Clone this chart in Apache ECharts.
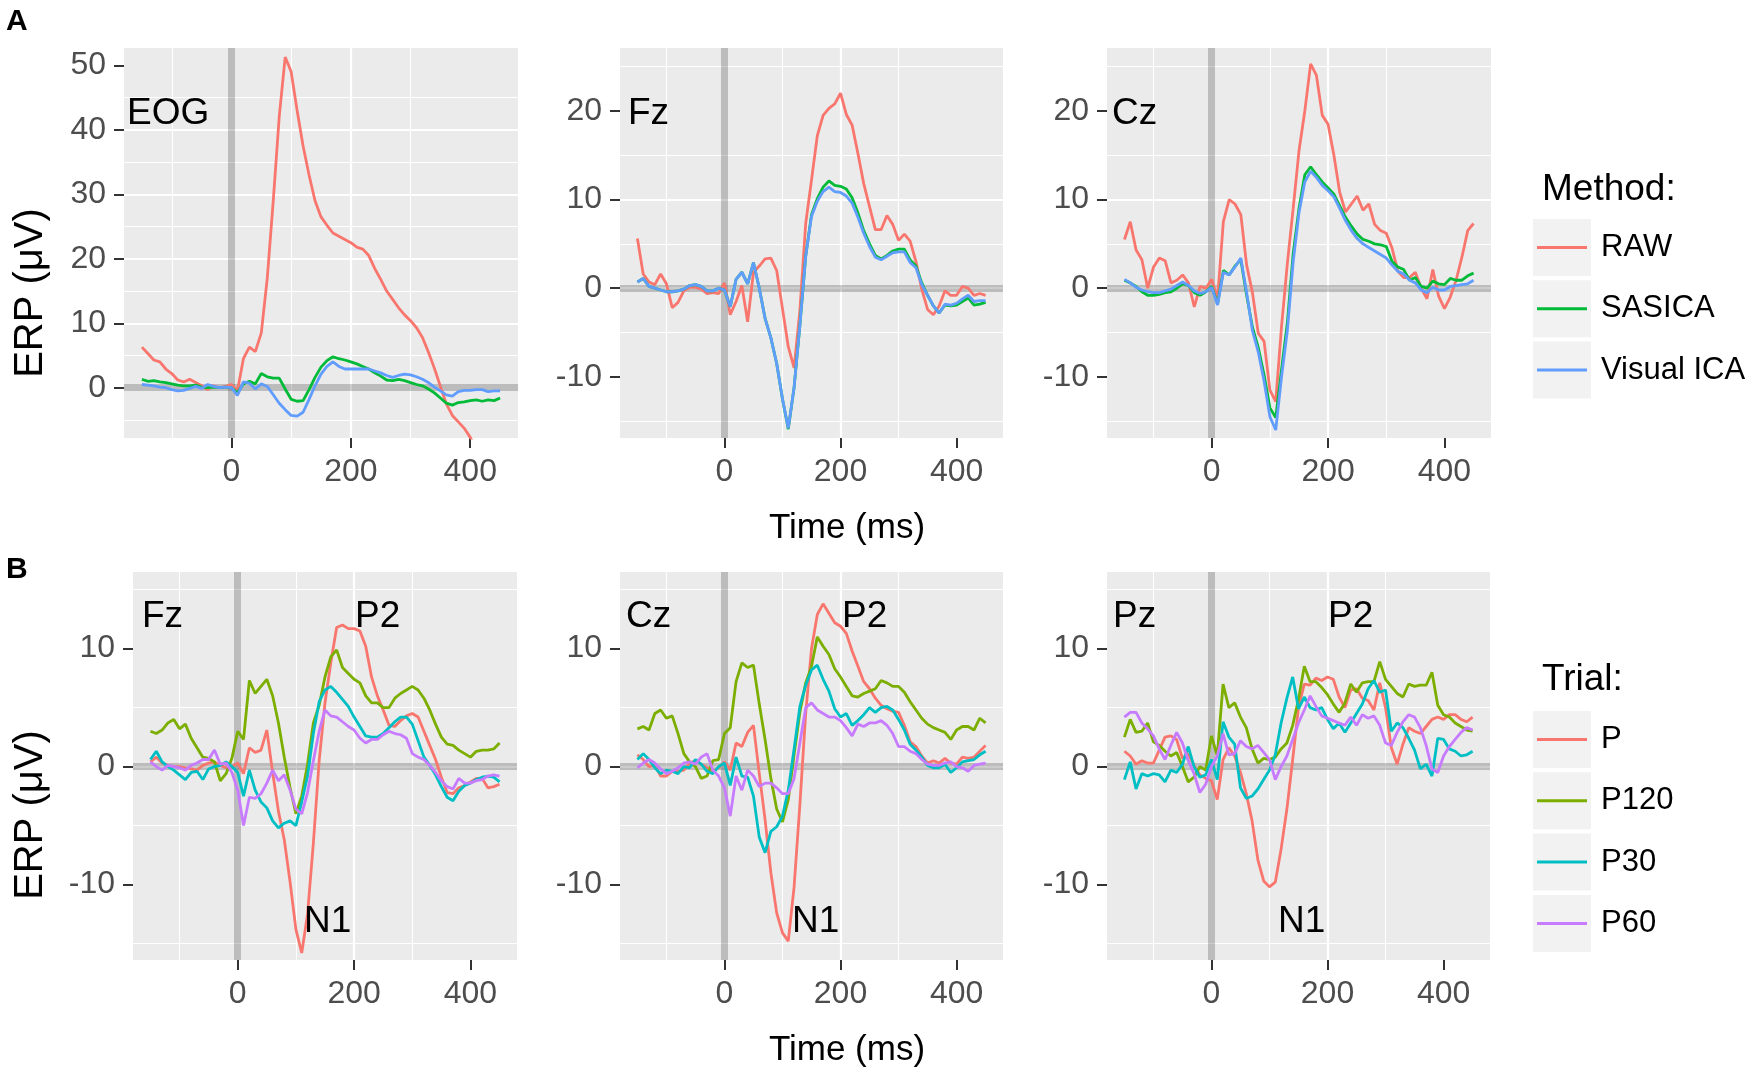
<!DOCTYPE html>
<html>
<head>
<meta charset="utf-8">
<title>ERP by method and trial</title>
<script src="https://cdn.jsdelivr.net/npm/echarts@6.0.0/dist/echarts.min.js"></script>
<style>
html, body { margin: 0; padding: 0; background: #fff; }
#chart { width: 1755px; height: 1079px; }
</style>
</head>
<body>
<div id="chart"></div>
<script>
// time points (ms), shared by every curve
var times = [-150, -140, -130, -120, -110, -100, -90, -80, -70, -60,
  -50, -40, -30, -20, -10, 0, 10, 20, 30, 40,
  50, 60, 70, 80, 90, 100, 110, 120, 130, 140,
  150, 160, 170, 180, 190, 200, 210, 220, 230, 240,
  250, 260, 270, 280, 290, 300, 310, 320, 330, 340,
  350, 360, 370, 380, 390, 400, 410, 420, 430, 440, 450];

var methodNames = ['RAW', 'SASICA', 'Visual ICA'];
var trialNames = ['P', 'P120', 'P30', 'P60'];

var xTicks = [0, 200, 400];
var eogTicks = [0, 10, 20, 30, 40, 50];
var topTicks = [-10, 0, 10, 20];
var bottomTicks = [-10, 0, 10];

// ---- A: EOG ----
var eogRaw = [6.3, 5.3, 4.3, 4.0, 2.9, 2.2, 1.2, 0.9, 1.3, 0.8,
  0.3, -0.3, 0.3, 0, 0.2, 0.5, -0.5, 4.5, 6.3, 5.6,
  8.5, 17, 29, 42, 51.3, 49, 43, 37.5, 33, 29,
  26.5, 25.2, 24, 23.5, 23, 22.5, 21.8, 21.5, 20.5, 18.5,
  16.8, 15, 13.7, 12.4, 11.3, 10.4, 9.3, 7.8, 5.5, 3.0,
  0.2, -2.5, -4.3, -5.3, -6.3, -7.7, -9.5, -11, -12.5, -14, -15.5];
var eogSasica = [1.3, 1.0, 1.1, 0.9, 0.8, 0.6, 0.4, 0.3, 0.3, 0.4,
  0.1, 0, 0.1, 0, 0.1, 0, -0.8, 0.6, 1.0, 0.6,
  2.2, 1.7, 1.5, 1.5, -0.2, -1.8, -2.1, -2.0, -0.3, 1.6,
  3.2, 4.2, 4.8, 4.5, 4.3, 4.0, 3.7, 3.3, 2.9, 2.3,
  1.8, 1.2, 1.1, 1.3, 1.1, 0.8, 0.5, 0.3, -0.2, -0.8,
  -1.6, -2.4, -2.7, -2.3, -2.2, -2.0, -1.9, -2.1, -1.9, -2.0, -1.6];
var eogVisual = [0.5, 0.4, 0.3, 0.1, 0, -0.3, -0.5, -0.4, -0.1, 0.2,
  -0.1, 0.5, 0.2, 0, 0.1, 0, -1.2, 0.9, 0.7, -0.2,
  0.6, 0.2, -1.1, -2.4, -3.4, -4.3, -4.4, -3.8, -1.8, 0.3,
  2.1, 3.3, 4.0, 3.3, 2.9, 2.9, 2.9, 2.9, 2.9, 2.6,
  2.3, 1.9, 1.6, 1.9, 2.1, 2.0, 1.7, 1.3, 0.8, 0.1,
  -0.5, -1.1, -1.3, -0.6, -0.4, -0.4, -0.3, -0.3, -0.6, -0.5, -0.5];

// ---- A: Fz ----
var fzRaw = [5.6, 1.6, 0.7, 0.4, 1.6, 0.5, -2.2, -1.6, -0.3, 0.1,
  0.1, -0.1, -0.6, -0.5, -0.6, 0.6, -3.0, -1.5, 0.3, -3.8,
  1.8, 2.5, 3.3, 3.4, 2.0, -2.3, -6.6, -9.0, -2.5, 7.3,
  12.2, 17.2, 19.5, 20.3, 20.8, 22, 19.6, 18.4, 15.2, 11.8,
  9.2, 6.6, 6.6, 8.2, 7.2, 5.4, 6.1, 5.3, 3.0, -0.1,
  -2.4, -3.0, -2.0, -0.3, -0.8, -0.8, 0.2, 0.0, -0.8, -0.6, -0.8];
var fzSasica = [0.7, 1.1, 0.2, 0, -0.2, -0.4, -0.4, -0.3, -0.1, 0.3,
  0.4, 0.2, -0.3, -0.3, 0.0, -0.2, -2.1, 1.0, 1.8, 0.5,
  2.9, 0.0, -3.4, -5.6, -8.5, -12.5, -15.9, -11.2, -4.2, 3.6,
  8.3, 10.1, 11.4, 12.1, 11.6, 11.5, 11.2, 10.2, 8.5, 6.5,
  5.0, 3.7, 3.3, 3.7, 4.2, 4.4, 4.4, 3.2, 2.5, 0.6,
  -0.8, -2.0, -2.8, -1.9, -2.0, -1.9, -1.5, -1.1, -1.9, -1.8, -1.6];
var fzVisual = [0.7, 1.1, 0.2, 0, -0.2, -0.4, -0.4, -0.3, -0.1, 0.3,
  0.4, 0.2, -0.3, -0.3, 0.0, -0.2, -2.1, 1.0, 1.8, 0.5,
  2.9, 0.0, -3.4, -5.6, -8.5, -12.5, -15.8, -11.2, -4.2, 3.6,
  8.1, 9.8, 10.9, 11.4, 10.9, 10.8, 10.4, 9.6, 8.0, 6.2,
  4.7, 3.5, 3.2, 3.6, 4.0, 4.1, 4.1, 2.9, 2.3, 0.4,
  -0.8, -2.0, -2.8, -1.8, -1.9, -1.7, -1.2, -0.8, -1.5, -1.4, -1.4];

// ---- A: Cz ----
var czRaw = [5.5, 7.5, 4.3, 3.2, 0, 2.4, 3.4, 3.1, 0.6, 0.9,
  1.5, 0.6, -2.1, 0.2, 0.0, 1.0, -1.2, 7.5, 10.0, 9.5,
  8.3, 2.6, -0.5, -5.1, -6.0, -11.5, -12.8, -4.3, 2.8, 9.0,
  15.5, 20.0, 25.3, 24.0, 19.5, 18.5, 15.0, 10.8, 8.6, 9.5,
  10.4, 8.8, 9.5, 7.2, 6.5, 6.2, 4.5, 1.9, 1.2, 1.2,
  1.8, 0.0, -1.2, 2.1, -0.9, -2.3, -1.0, 0.9, 3.5, 6.5, 7.3];
var czSasica = [0.9, 0.6, 0.2, -0.4, -0.8, -0.8, -0.7, -0.5, -0.4, 0.0,
  0.5, 0.3, -0.5, -0.8, -0.4, 0.2, -1.8, 2.0, 1.5, 2.5,
  3.2, -0.8, -4.4, -6.7, -9.8, -13.5, -14.6, -9.2, -3.9, 3.9,
  9.0, 12.8, 13.7, 12.8, 12.0, 11.3, 10.6, 9.3, 8.0, 7.0,
  6.1, 5.5, 5.3, 5.0, 4.9, 4.7, 3.0, 2.4, 2.1, 0.9,
  1.2, 0.2, 0.0, 0.8, 0.5, 0.4, 1.1, 0.9, 0.9, 1.4, 1.7];
var czVisual = [1.0, 0.6, 0.1, -0.2, -0.4, -0.5, -0.5, -0.3, -0.1, 0.3,
  0.7, 0.3, -0.3, -0.6, -0.4, 0.1, -1.9, 1.8, 1.5, 2.4,
  3.4, -0.5, -4.8, -7.2, -10.5, -14.5, -16.0, -10.0, -4.8, 3.0,
  8.5, 12.0, 13.2, 12.5, 11.6, 11.0, 10.3, 9.0, 7.6, 6.5,
  5.6, 5.0, 4.6, 4.2, 3.8, 3.4, 2.6, 1.9, 1.6, 0.9,
  0.6, -0.2, -0.5, 0.1, -0.2, -0.2, 0.2, 0.3, 0.4, 0.5, 0.9];

// ---- B: Fz ----
var bFzP = [0.4, 0.8, 0.3, 0.1, 0, 0, -0.1, -0.2, -0.3, 0.1,
  0.3, 0.4, 0.1, -0.1, 0, 0.3, -0.6, 1.6, 1.2, 1.4,
  3.1, -0.5, -3.8, -6.2, -9.8, -13.8, -15.8, -12.5, -6.5, 0.5,
  5.4, 8.8, 11.8, 12.0, 11.7, 11.7, 11.5, 10.2, 7.6, 6.0,
  4.8, 3.5, 3.4, 3.9, 4.3, 4.5, 4.2, 3.0, 1.8, 0.6,
  -0.9, -2.2, -2.3, -1.8, -1.6, -1.3, -1.0, -1.0, -1.8, -1.7, -1.5];
var bFzP120 = [3.0, 2.8, 3.1, 3.7, 4.0, 3.2, 3.6, 2.4, 1.6, 0.8,
  0.7, 0.4, -1.2, -0.6, 0.7, 3.0, 2.3, 7.3, 6.2, 6.8,
  7.4, 6.0, 3.7, 0.8, -1.8, -4.0, -2.5, 0.2, 3.7, 5.2,
  7.6, 9.3, 9.9, 8.4, 7.9, 7.4, 7.1, 6.0, 5.4, 5.4,
  5.0, 5.0, 5.8, 6.2, 6.5, 6.8, 6.5, 5.8, 4.8, 3.6,
  2.5, 1.9, 1.8, 1.4, 1.1, 0.8, 1.3, 1.4, 1.4, 1.5, 2.0];
var bFzP30 = [0.6, 1.3, 0.4, 0, -0.3, -0.7, -1.1, -0.5, -0.4, -1.1,
  -0.2, 0, 0.1, 0.4, 0, -0.5, -2.5, -0.3, -2.0, -3.0,
  -3.5, -4.6, -5.2, -4.8, -4.6, -5.0, -3.0, -0.8, 2.8, 5.5,
  6.5, 6.8, 6.3, 5.7, 5.1, 4.2, 3.4, 2.6, 2.5, 2.5,
  2.8, 3.3, 3.8, 4.2, 4.2, 3.6, 2.2, 0.8, 0.1, -0.7,
  -1.7, -2.6, -2.9, -2.1, -1.6, -1.4, -1.1, -0.9, -0.8, -0.9, -1.3];
var bFzP60 = [0.4, 0, -0.3, 0.1, 0, -0.1, -0.3, 0.1, 0.3, 0.6,
  0.6, 1.4, 0.2, 0.3, -0.5, -2.0, -5.0, -2.6, -2.7, -2.3,
  -1.4, -0.3, -1.2, -0.7, -2.0, -3.6, -4.0, -2.2, 0.5, 3.0,
  4.8, 4.3, 4.2, 3.8, 3.4, 3.1, 2.4, 2.0, 2.3, 2.3,
  2.7, 3.0, 2.8, 2.7, 2.4, 1.1, 0.8, 0.6, 0.1, -0.5,
  -1.2, -1.7, -1.9, -1.0, -1.4, -1.4, -1.2, -1.1, -0.8, -0.7, -0.8];

// ---- B: Cz ----
var bCzP = [1.0, 0.6, 0, 0.1, -0.8, -0.8, -0.4, -0.4, -0.3, 0.3,
  0.5, 0.2, -0.1, -0.4, -0.1, 0.4, -0.3, 2.0, 1.7, 2.9,
  3.5, -0.6, -4.5, -9.0, -12.4, -14.1, -14.8, -10.2, -3.2, 4.5,
  10.0, 12.9, 13.8, 13.0, 12.2, 11.9, 11.3, 9.8, 8.5, 7.2,
  6.6, 5.8, 5.2, 4.9, 4.7, 4.6, 3.5, 2.1, 1.7, 0.9,
  0.3, 0.5, 0.3, 0.7, 0.3, 0.2, 0.8, 0.7, 0.8, 1.3, 1.8];
var bCzP120 = [3.2, 3.4, 3.1, 4.5, 4.8, 4.1, 4.3, 2.8, 1.1, 0.4,
  0, -1.0, -0.8, 0.5, 0.6, 2.8, 3.3, 7.2, 8.8, 8.4,
  8.6, 5.3, 2.3, -1.0, -3.6, -4.7, -2.8, 1.0, 4.6, 7.1,
  8.5, 11.0, 10.2, 9.5, 8.3, 7.6, 6.8, 6.0, 5.9, 6.2,
  6.4, 6.6, 7.3, 7.1, 6.8, 6.8, 6.3, 5.5, 4.8, 4.1,
  3.6, 3.3, 3.1, 2.9, 2.3, 3.1, 3.4, 3.4, 3.1, 4.1, 3.7];
var bCzP30 = [0.6, 1.1, 0.6, -0.1, -0.6, -0.3, -0.4, -0.6, 0, -0.1,
  0.6, 0.2, -0.4, -0.6, 0, 0.3, -1.6, 0.8, -0.8, -0.9,
  -2.5, -6.0, -7.3, -5.5, -5.1, -4.2, -2.0, 1.5, 5.1, 6.9,
  8.2, 8.6, 7.4, 6.4, 4.9, 4.2, 4.5, 3.5, 3.9, 4.4,
  5.0, 4.6, 5.0, 5.1, 4.8, 4.0, 3.1, 1.9, 1.4, 0.8,
  0.1, -0.1, -0.1, 0.2, -0.5, -0.1, 0.4, 0.5, 0.6, 1.0, 1.3];
var bCzP60 = [-0.1, 0.3, 0.6, 0.3, -0.2, -0.6, -0.4, -0.1, 0.3, 0.4,
  0.2, 0.8, 1.1, -0.3, -0.8, -1.8, -4.2, -0.8, -2.0, -0.3,
  -0.8, -1.7, -1.4, -1.4, -1.8, -2.3, -2.3, -1.0, 2.0, 5.0,
  5.4, 4.8, 4.5, 4.2, 4.2, 3.9, 3.3, 2.6, 3.6, 3.4,
  3.7, 3.7, 3.9, 3.5, 2.8, 1.7, 1.7, 1.3, 1.1, 0.6,
  0.2, 0.1, 0.1, 0.3, 0.4, 0, -0.1, -0.4, 0.1, 0.2, 0.3];

// ---- B: Pz ----
var bPzP = [1.3, 0.9, 0.2, 0.5, 0.3, 0.3, 1.4, 2.5, 2.6, 2.3,
  0.7, 1.1, 0.1, -0.7, -1.0, -1.2, -2.8, 0.6, 1.6, 0.9,
  -0.5, -2.3, -4.6, -7.9, -9.7, -10.2, -9.8, -7.0, -3.6, 0.6,
  5.0, 7.0, 6.9, 7.5, 7.3, 7.6, 7.4, 5.9, 5.0, 6.5,
  6.6, 5.8, 5.6, 4.8, 7.1, 5.0, 1.6, 0.2, 1.9, 3.3,
  3.0, 2.8, 3.4, 4.0, 4.2, 4.0, 4.4, 4.4, 4.0, 3.8, 4.2];
var bPzP120 = [2.5, 4.0, 2.9, 3.0, 3.7, 2.1, 1.8, 1.3, 0.9, 1.2,
  0.0, -1.3, -0.9, 0, -0.3, 2.6, 0.9, 7.0, 5.0, 5.4,
  4.2, 3.3, 1.5, 0.3, 0.7, 0.6, 0.8, 1.5, 2.0, 3.5,
  5.7, 8.5, 7.2, 7.2, 6.7, 6.1, 5.3, 4.6, 5.4, 7.0,
  6.3, 7.1, 7.2, 7.2, 8.9, 7.4, 6.8, 6.2, 5.9, 7.0,
  6.8, 6.9, 6.9, 8.0, 5.2, 4.4, 4.2, 3.7, 3.4, 3.1, 3.0];
var bPzP30 = [-1.1, 0.4, -1.9, -0.6, -0.8, -0.6, -0.7, -1.3, -0.3, -0.5,
  0.2, 1.7, 0, -0.9, -0.7, 0.6, -1.1, 3.8, 2.5, 1.9,
  -1.8, -2.7, -2.5, -1.9, -1.1, -0.3, 1.0, 3.7, 5.8, 7.6,
  4.9, 5.9, 5.0, 4.8, 5.0, 4.0, 3.2, 3.7, 2.9, 3.7,
  4.5, 5.3, 6.6, 7.3, 6.3, 6.5, 3.0, 3.7, 3.3, 2.4,
  1.4, -0.2, 0.2, -0.8, 2.4, 2.3, 1.5, 1.3, 0.9, 1.0, 1.3];
var bPzP60 = [4.2, 4.6, 4.6, 3.7, 3.2, 2.6, 1.5, 0.6, 1.8, 2.9,
  2.0, 0.5, -0.6, -2.2, -1.5, 0, 0.9, 2.8, 1.0, 1.1,
  2.2, 1.7, 1.5, 1.8, 1.2, 0.6, -1.1, 0.0, 0.9, 2.3,
  3.7, 4.8, 6.0, 5.1, 4.3, 4.1, 3.9, 3.7, 3.5, 4.2,
  3.5, 4.4, 4.1, 4.3, 3.5, 2.0, 1.8, 2.9, 3.8, 4.4,
  4.2, 3.3, 1.8, -0.2, -0.5, 0.9, 1.7, 2.3, 2.9, 3.3, 3.1];

(function () {
  var chart = echarts.init(document.getElementById('chart'));
  var font = '"Liberation Sans", Arial, sans-serif';
  var methodColors = ['#F8766D', '#00BA38', '#619CFF'];
  var trialColors = ['#F8766D', '#7CAE00', '#00BFC4', '#C77CFF'];

  // one entry per facet: where it sits and what it shows
  var panels = [
    { box: [124, 48, 394, 390], y: [-7.8, 52.7], ticks: eogTicks, names: methodNames, colors: methodColors, values: [eogRaw, eogSasica, eogVisual] },
    { box: [620, 48, 383, 390], y: [-16.9, 27.1], ticks: topTicks, names: methodNames, colors: methodColors, values: [fzRaw, fzSasica, fzVisual] },
    { box: [1107, 48, 384, 390], y: [-16.9, 27.1], ticks: topTicks, names: methodNames, colors: methodColors, values: [czRaw, czSasica, czVisual] },
    { box: [133, 572, 384, 388], y: [-16.4, 16.5], ticks: bottomTicks, names: trialNames, colors: trialColors, values: [bFzP, bFzP120, bFzP30, bFzP60] },
    { box: [620, 572, 383, 388], y: [-16.4, 16.5], ticks: bottomTicks, names: trialNames, colors: trialColors, values: [bCzP, bCzP120, bCzP30, bCzP60] },
    { box: [1107, 572, 383, 388], y: [-16.4, 16.5], ticks: bottomTicks, names: trialNames, colors: trialColors, values: [bPzP, bPzP120, bPzP30, bPzP60] }
  ];

  var labelStyle = { color: '#4D4D4D', fontSize: 32, fontFamily: font };
  var tickStyle = { show: true, inside: false, length: 10, lineStyle: { color: '#333333', width: 2 } };

  var grids = [], xAxes = [], yAxes = [], series = [];
  panels.forEach(function (p, i) {
    grids.push({
      left: p.box[0], top: p.box[1], width: p.box[2], height: p.box[3],
      show: true, backgroundColor: '#EBEBEB', borderWidth: 0
    });
    xAxes.push({
      type: 'value', gridIndex: i, min: -180, max: 480, position: 'bottom',
      minInterval: 200, maxInterval: 200,
      axisLine: { show: false, onZero: false },
      axisTick: Object.assign({ customValues: xTicks }, tickStyle),
      axisLabel: Object.assign({ customValues: xTicks, margin: 18 }, labelStyle),
      splitLine: { show: true, showMinLine: false, showMaxLine: false, lineStyle: { color: '#FFFFFF', width: 2.2 } },
      minorTick: { show: false, splitNumber: 2 },
      minorSplitLine: { show: true, lineStyle: { color: '#FFFFFF', width: 1.1 } }
    });
    yAxes.push({
      type: 'value', gridIndex: i, min: p.y[0], max: p.y[1], position: 'left',
      minInterval: 10, maxInterval: 10,
      axisLine: { show: false, onZero: false },
      axisTick: Object.assign({ customValues: p.ticks }, tickStyle),
      axisLabel: Object.assign({ customValues: p.ticks, margin: 18 }, labelStyle),
      splitLine: { show: true, showMinLine: false, showMaxLine: false, lineStyle: { color: '#FFFFFF', width: 2.2 } },
      minorTick: { show: false, splitNumber: 2 },
      minorSplitLine: { show: true, lineStyle: { color: '#FFFFFF', width: 1.1 } }
    });
    p.values.forEach(function (vals, j) {
      var s = {
        type: 'line', name: p.names[j], xAxisIndex: i, yAxisIndex: i,
        data: times.map(function (t, k) { return [t, vals[k]]; }),
        symbol: 'none', silent: true, clip: true, z: 3 + j,
        lineStyle: { color: p.colors[j], width: 2.8 },
        itemStyle: { color: p.colors[j] }
      };
      if (j === 0) {
        // grey reference lines at t = 0 and 0 µV
        s.markLine = {
          silent: true, symbol: ['none', 'none'], z: 2,
          label: { show: false },
          lineStyle: { color: 'rgba(0,0,0,0.2)', width: 7, type: 'solid' },
          data: [{ xAxis: 0 }, { yAxis: 0 }]
        };
      }
      series.push(s);
    });
  });

  function legendFor(names, top) {
    return {
      data: names, orient: 'vertical', left: 1537, top: top, padding: 0,
      icon: 'rect', itemWidth: 50, itemHeight: 3, itemGap: 4.3, selectedMode: false,
      itemStyle: { borderWidth: 0 },
      textStyle: { color: '#000', fontSize: 31, fontFamily: font, lineHeight: 57, padding: [0, 0, 0, 9] }
    };
  }

  var graphics = [];
  // grey key boxes behind legend items
  function keyBoxes(count, top) {
    for (var i = 0; i < count; i++) {
      graphics.push({ type: 'rect', shape: { x: 1533, y: top + i * 61.3, width: 58, height: 57 }, style: { fill: '#F2F2F2' }, z: -1 });
    }
  }
  keyBoxes(methodNames.length, 219);
  keyBoxes(trialNames.length, 711);

  function text(str, x, y, size, opts) {
    opts = opts || {};
    graphics.push({
      type: 'text', x: x, y: y, rotation: opts.rotation || 0, z: 10,
      style: {
        text: str, fill: opts.color || '#000', fontSize: size, fontFamily: font,
        fontWeight: opts.bold ? 'bold' : 'normal',
        align: opts.align || 'left', verticalAlign: 'middle'
      }
    });
  }
  text('A', 6, 22, 30, { bold: true });
  text('B', 6, 570, 30, { bold: true });
  text('Method:', 1542, 190, 37);
  text('Trial:', 1542, 680, 37);
  text('Time (ms)', 847, 528, 35, { align: 'center' });
  text('Time (ms)', 847, 1050, 35, { align: 'center' });
  text('ERP (μV)', 31, 293, 40, { align: 'center', rotation: Math.PI / 2 });
  text('ERP (μV)', 31, 815, 40, { align: 'center', rotation: Math.PI / 2 });
  // facet labels and component names
  text('EOG', 127, 114, 37);
  text('Fz', 628, 114, 37);
  text('Cz', 1112, 114, 37);
  text('Fz', 142, 617, 37);
  text('Cz', 626, 617, 37);
  text('Pz', 1113, 617, 37);
  text('P2', 355, 617, 37);
  text('P2', 842, 617, 37);
  text('P2', 1328, 617, 37);
  text('N1', 304, 922, 37);
  text('N1', 792, 922, 37);
  text('N1', 1278, 922, 37);

  var option = {
    animation: false,
    backgroundColor: '#FFFFFF',
    grid: grids,
    xAxis: xAxes,
    yAxis: yAxes,
    legend: [legendFor(methodNames, 219), legendFor(trialNames, 711)],
    graphic: graphics,
    series: series
  };
  chart.setOption(option);
  window.addEventListener('resize', function () { chart.resize(); });
})();
</script>
</body>
</html>
